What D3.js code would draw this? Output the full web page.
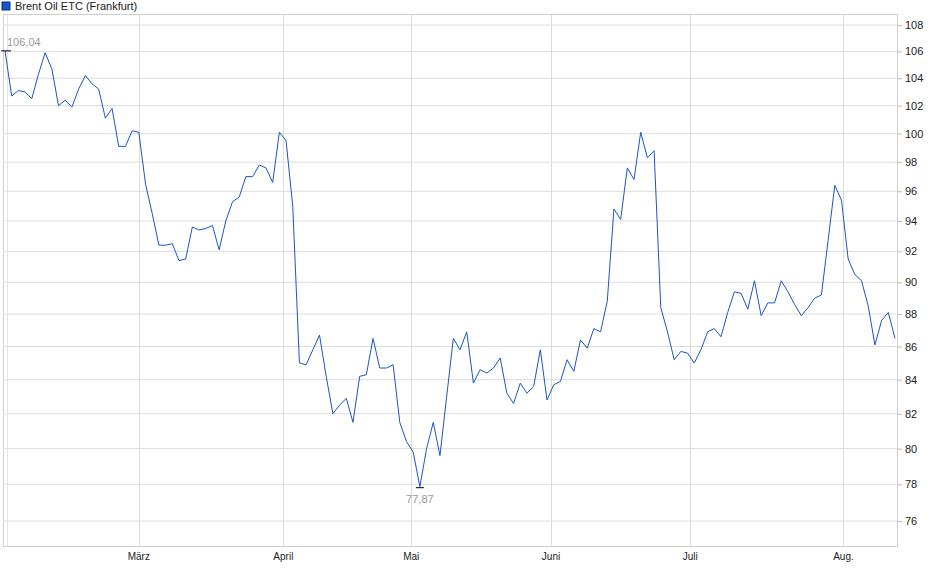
<!DOCTYPE html>
<html><head><meta charset="utf-8">
<script src="https://cdn.jsdelivr.net/npm/d3@7"></script>
<style>body{margin:0;background:#fff}text{font-family:"Liberation Sans",Arial,sans-serif}</style>
</head><body><svg id="c" width="940" height="579"></svg>
<script>
const febValues=[106.04,102.7,103.1,103.0,102.5,104.3,105.9,104.7,102.0,102.4,101.9,103.2,104.2,103.6,103.2,101.1,101.8,99.1,99.1,100.2,100.1];
const marValues=[96.5,94.5,92.4,92.4,92.5,91.4,91.5,93.6,93.4,93.5,93.7,92.1,94.0,95.3,95.6,97.0,97.0,97.8,97.6,96.6,100.1];
const aprValues=[99.5,95.0,85.0,84.9,85.8,86.7,84.2,82.0,82.5,82.9,81.5,84.2,84.3,86.5,84.7,84.7,84.9,81.5,80.4,79.8,77.87];
const mayValues=[80.0,81.5,79.6,83.0,86.5,85.8,86.9,83.8,84.6,84.4,84.7,85.3,83.2,82.6,83.8,83.2,83.6,85.8,82.8,83.7,83.9];
const summerValues=[85.2,84.5,86.4,85.9,87.1,86.9,88.8,94.8,94.1,97.6,96.8,100.1,98.3,98.8,88.4,86.9,85.2,85.7,85.6,85.0,85.8,86.9,87.1,86.6,88.1,89.4,89.3,88.3,90.1,87.9,88.7,88.7,90.1,89.4,88.6,87.9,88.4,89.0,89.2,92.7,96.4,95.4,91.5,90.5,90.1,88.5,86.1,87.6,88.1,86.5];
const monthLabels=["März","April","Mai","Juni","Juli","Aug."];
const monthIndex=[20,41.6,60.7,81.6,102.4,125.3];
const yTicks=[76,78,80,82,84,86,88,90,92,94,96,98,100,102,104,106,108];
const seriesName="Brent Oil ETC (Frankfurt)";

const values=[...febValues,...marValues,...aprValues,...mayValues,...summerValues];
const svg=d3.select("#c");
const L=5,R=898,T=14,B=546;
const x=d3.scaleLinear().domain([0,values.length-1]).range([5,895]);
const y=d3.scaleLog().domain([76,108]).range([521,25]);
const grid="#dcdcdc";
svg.append("g").selectAll("line").data(yTicks).join("line")
 .attr("x1",L).attr("x2",R).attr("y1",d=>y(d)).attr("y2",d=>y(d)).attr("stroke",grid);
svg.append("g").selectAll("line").data(monthIndex).join("line")
 .attr("x1",d=>Math.round(x(d))+.5).attr("x2",d=>Math.round(x(d))+.5).attr("y1",T).attr("y2",B).attr("stroke",grid);
svg.append("rect").attr("x",L-1.5).attr("y",T+.5).attr("width",R-L+1).attr("height",B-T).attr("fill","none").attr("stroke","#cfcfcf");
svg.append("line").attr("x1",L+2.5).attr("x2",L+2.5).attr("y1",T).attr("y2",B).attr("stroke","#e4e4e4");
const ya=svg.append("g").attr("transform",`translate(${R},0)`)
 .call(d3.axisRight(y).tickValues(yTicks).tickFormat(d3.format("d")).tickSize(4).tickPadding(3));
ya.select(".domain").remove();
ya.selectAll("line").attr("stroke","#bbb");
ya.selectAll("text").attr("fill","#222").attr("font-size",11);
svg.append("g").selectAll("text").data(monthLabels).join("text")
 .attr("x",(d,i)=>x(monthIndex[i])).attr("y",B+14).attr("text-anchor","middle")
 .attr("font-size",10).attr("fill","#222").text(d=>d);
svg.append("path").datum(values).attr("fill","none").attr("stroke","#1a56c4").attr("stroke-width",1)
 .attr("d",d3.line().x((d,i)=>x(i)).y(d=>y(d)));
const maxI=0, minI=values.indexOf(d3.min(values));
svg.append("line").attr("x1",x(maxI)-4).attr("x2",x(maxI)+6).attr("y1",y(values[maxI])).attr("y2",y(values[maxI])).attr("stroke","#000");
svg.append("text").attr("x",x(maxI)+2).attr("y",y(values[maxI])-5).attr("font-size",11).attr("fill","#999").text(d3.format(".2f")(values[maxI]).replace(".",","));
svg.append("line").attr("x1",x(minI)-4).attr("x2",x(minI)+4).attr("y1",y(values[minI])+1).attr("y2",y(values[minI])+1).attr("stroke","#000");
svg.append("text").attr("x",x(minI)).attr("y",y(values[minI])+16).attr("text-anchor","middle").attr("font-size",11).attr("fill","#999").text(d3.format(".2f")(values[minI]).replace(".",","));
svg.append("rect").attr("x",2).attr("y",2).attr("width",8).attr("height",8).attr("fill","#1a56c4").attr("stroke","#0b2f80");
svg.append("text").attr("x",15).attr("y",10).attr("font-size",11).attr("fill","#222").text(seriesName);
</script></body></html>
